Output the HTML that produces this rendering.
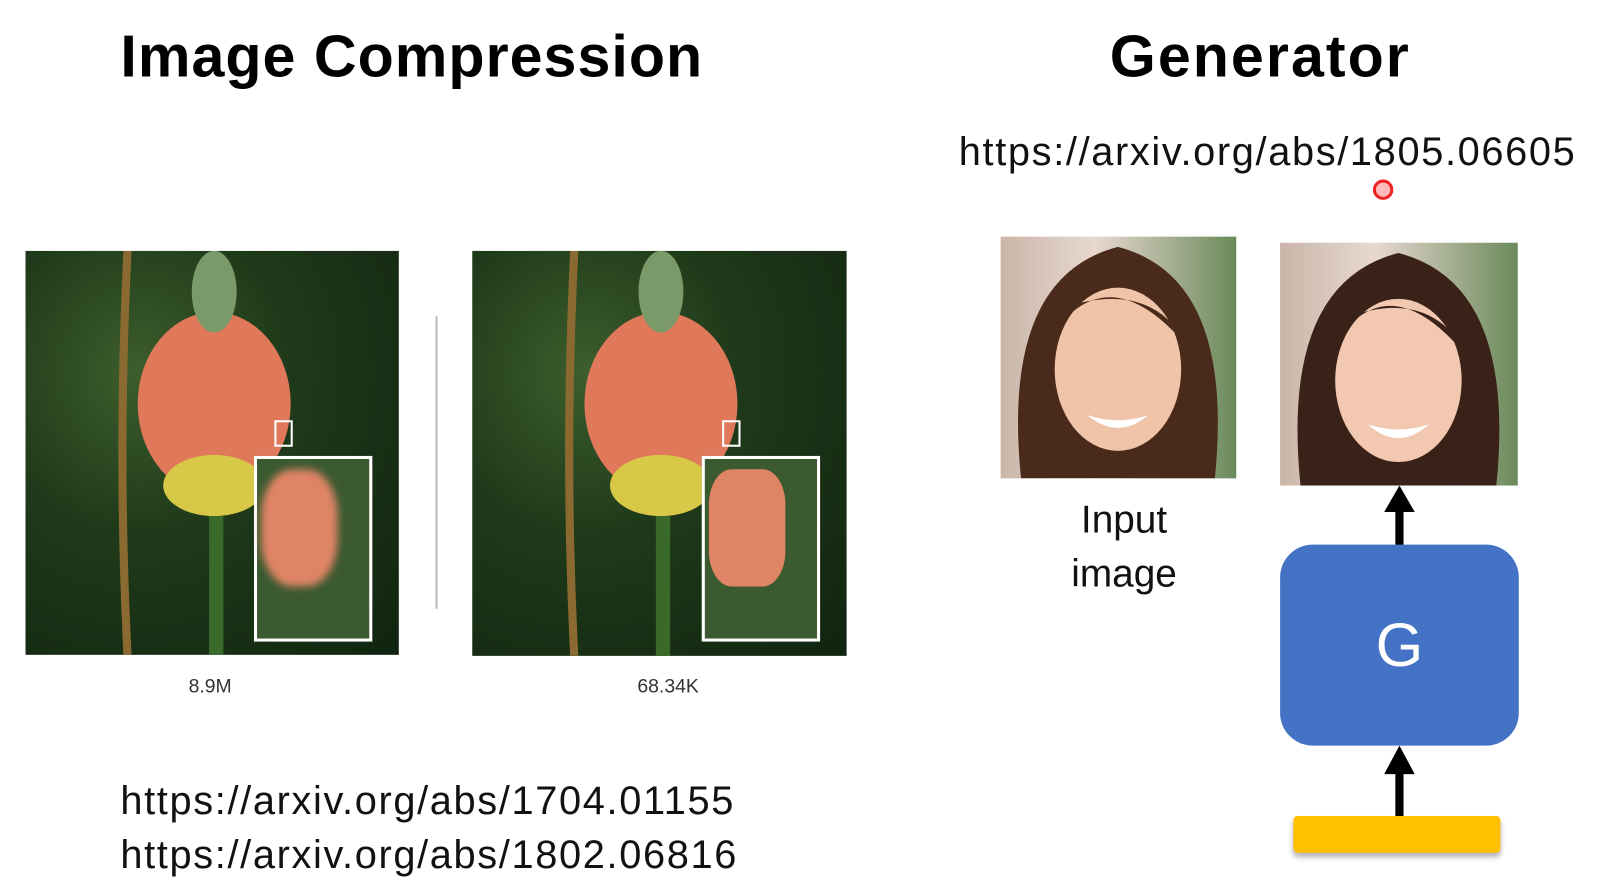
<!DOCTYPE html>
<html><head><meta charset="utf-8"><style>
body{margin:0;width:1597px;height:885px;background:#fff;position:relative;overflow:hidden;font-family:"Liberation Sans",sans-serif;}
#wrap{position:absolute;left:0;top:0;width:1566px;height:868px;transform:scale(1.02);transform-origin:0 0;}
.a{position:absolute;}
.t{font-weight:bold;font-size:58px;color:#000;white-space:nowrap;}
.u{font-size:39px;color:#111;white-space:nowrap;letter-spacing:1.6px;}
.photo{background:radial-gradient(ellipse at 30% 30%,#3d5e2c 0%,#1f3a1a 40%,#10240f 100%);overflow:hidden;}
.inset{border:3px solid #fff;background:#3b5a30;}
.face{overflow:hidden;background:linear-gradient(90deg,#c9b6a8,#e8d8d0 40%,#6a8a5a);}
</style></head><body>
<div id="wrap">
<div class="a t" style="left:118px;top:22px;letter-spacing:1px;">Image Compression</div>
<div class="a t" style="left:1088px;top:22px;letter-spacing:2px;">Generator</div>
<div class="a u" style="left:940px;top:128px;">https://arxiv.org/abs/1805.06605</div>
<div class="a" style="left:1346px;top:176px;width:14px;height:14px;border-radius:50%;border:3px solid #e22;background:#fbb;"></div>

<div class="a photo" style="left:25px;top:246px;width:366px;height:396px;">
 <svg width="366" height="396"><path d="M100 0 Q90 200 100 396" stroke="#8a6a30" stroke-width="8" fill="none"/><ellipse cx="185" cy="150" rx="75" ry="90" fill="#e0785a"/><ellipse cx="185" cy="40" rx="22" ry="40" fill="#7a9a6a"/><ellipse cx="185" cy="230" rx="50" ry="30" fill="#d8c848"/><rect x="180" y="260" width="14" height="136" fill="#3a6a2a"/></svg>
 <div class="a" style="left:244px;top:166px;width:14px;height:22px;border:2px solid #fff;"></div>
 <div class="a inset" style="left:224px;top:201px;width:110px;height:176px;"><div class="a" style="left:4px;top:10px;width:75px;height:115px;border-radius:40%;background:#e08466;filter:blur(4px);"></div></div>
</div>
<div class="a" style="left:427px;top:310px;width:2px;height:287px;background:#bbb;"></div>
<div class="a photo" style="left:463px;top:246px;width:367px;height:397px;">
 <svg width="367" height="397"><path d="M100 0 Q90 200 100 397" stroke="#8a6a30" stroke-width="8" fill="none"/><ellipse cx="185" cy="150" rx="75" ry="90" fill="#e0785a"/><ellipse cx="185" cy="40" rx="22" ry="40" fill="#7a9a6a"/><ellipse cx="185" cy="230" rx="50" ry="30" fill="#d8c848"/><rect x="180" y="260" width="14" height="137" fill="#3a6a2a"/></svg>
 <div class="a" style="left:245px;top:166px;width:14px;height:22px;border:2px solid #fff;"></div>
 <div class="a inset" style="left:225px;top:201px;width:110px;height:176px;"><div class="a" style="left:4px;top:10px;width:75px;height:115px;border-radius:30%;background:#e08466;"></div></div>
</div>
<div class="a" style="left:166px;top:663px;width:80px;text-align:center;font-size:19px;color:#333;">8.9M</div>
<div class="a" style="left:605px;top:663px;width:100px;text-align:center;font-size:19px;color:#333;">68.34K</div>
<div class="a u" style="left:118px;top:764px;">https://arxiv.org/abs/1704.01155</div>
<div class="a u" style="left:118px;top:817px;">https://arxiv.org/abs/1802.06816</div>

<div class="a face" style="left:981px;top:232px;width:231px;height:237px;">
 <svg width="231" height="237"><path d="M20 237 Q0 40 115 10 Q230 40 210 237 Z" fill="#4a2a1a"/><ellipse cx="115" cy="130" rx="62" ry="80" fill="#f0c4a8"/><path d="M55 90 Q110 20 185 110 Q150 40 60 70Z" fill="#4a2a1a"/><path d="M85 175 Q115 200 145 175 Q115 185 85 175Z" fill="#fff"/></svg>
</div>
<div class="a" style="left:1002px;top:484px;width:200px;text-align:center;font-size:38px;line-height:53px;color:#111;">Input<br>image</div>
<div class="a face" style="left:1255px;top:238px;width:233px;height:238px;">
 <svg width="233" height="238"><path d="M20 238 Q0 40 116 10 Q232 40 212 238 Z" fill="#3a2218"/><ellipse cx="116" cy="135" rx="62" ry="80" fill="#f2c8b0"/><path d="M56 95 Q110 20 186 115 Q150 40 60 75Z" fill="#3a2218"/><path d="M86 178 Q116 205 146 178 Q116 188 86 178Z" fill="#fff"/></svg>
</div>
<svg class="a" style="left:1355px;top:476px;" width="34" height="60"><rect x="13" y="20" width="8" height="40" fill="#000"/><polygon points="17,0 2,26 32,26" fill="#000"/></svg>
<div class="a" style="left:1255px;top:534px;width:234px;height:197px;background:#4472C4;border-radius:32px;color:#fff;font-size:60px;text-align:center;line-height:197px;">G</div>
<svg class="a" style="left:1355px;top:731px;" width="34" height="70"><rect x="13" y="22" width="8" height="48" fill="#000"/><polygon points="17,0 2,28 32,28" fill="#000"/></svg>
<div class="a" style="left:1268px;top:800px;width:203px;height:36px;background:#FFC000;border-radius:4px;box-shadow:0 4px 5px rgba(0,0,0,0.3);"></div>
</div>
</body></html>
